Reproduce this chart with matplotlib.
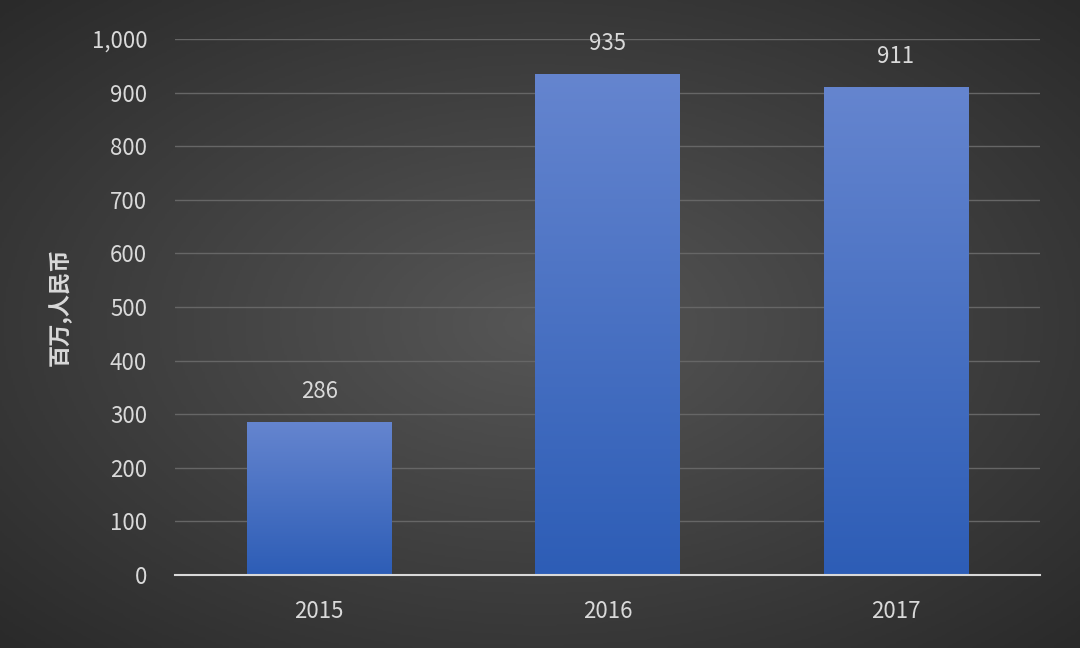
import numpy as np
import matplotlib
matplotlib.use("Agg")
import matplotlib.pyplot as plt
from matplotlib.colors import LinearSegmentedColormap

plt.rcParams['font.family'] = ['Noto Sans CJK SC', 'DejaVu Sans']

categories = ['2015', '2016', '2017']
values = [286, 935, 911]
yticks = [0, 100, 200, 300, 400, 500, 600, 700, 800, 900, 1000]
ylabel = '百万,人民币'

fig = plt.figure(figsize=(10.8, 6.48), dpi=100)
bg = fig.add_axes([0, 0, 1, 1])
yy, xx = np.mgrid[-1:1:300j, -1:1:500j]
r = np.sqrt(xx**2 + yy**2) / np.sqrt(2)
bgcmap = LinearSegmentedColormap.from_list('bg', ['#565656', '#2a2a2a'])
bg.imshow(r, cmap=bgcmap, aspect='auto', extent=[0, 1, 0, 1], vmin=0, vmax=1)
bg.axis('off')

ax = fig.add_axes([0.162, 0.1127, 0.801, 0.827])
ax.patch.set_alpha(0)
x = np.arange(len(categories))
bars = ax.bar(x, values, width=0.5, color='none', zorder=3)
barcmap = LinearSegmentedColormap.from_list('bar', ['#2d5db6', '#6585cf'])
grad = np.linspace(0, 1, 256).reshape(-1, 1)
for b in bars:
    x0, w, h = b.get_x(), b.get_width(), b.get_height()
    im = ax.imshow(grad, cmap=barcmap, origin='lower', aspect='auto',
                   extent=[x0, x0 + w, 0, h], zorder=3)
    im.set_clip_path(b)
for xi, v in zip(x, values):
    ax.text(xi, v + 35, f'{v}', ha='center', va='bottom', color='#d9d9d9', fontsize=16)

ax.set_xlim(-0.5, 2.5)
ax.set_ylim(0, 1000)
ax.set_yticks(yticks)
ax.set_yticklabels([f'{t:,}' for t in yticks])
ax.set_xticks(x)
ax.set_xticklabels(categories)
ax.tick_params(colors='#d9d9d9', labelsize=16, length=0)
ax.tick_params(axis='y', pad=20)
ax.tick_params(axis='x', pad=18)
ax.grid(axis='y', color='#666666', linewidth=1, zorder=0)
for s in ['top', 'right', 'left']:
    ax.spines[s].set_visible(False)
ax.spines['bottom'].set_color('#d9d9d9')
ax.spines['bottom'].set_linewidth(1.5)
ax.spines['bottom'].set_zorder(4)
ax.set_ylabel(ylabel, color='#d9d9d9', fontsize=16, fontweight='bold', labelpad=14)

fig.savefig('out.png', dpi=100)
